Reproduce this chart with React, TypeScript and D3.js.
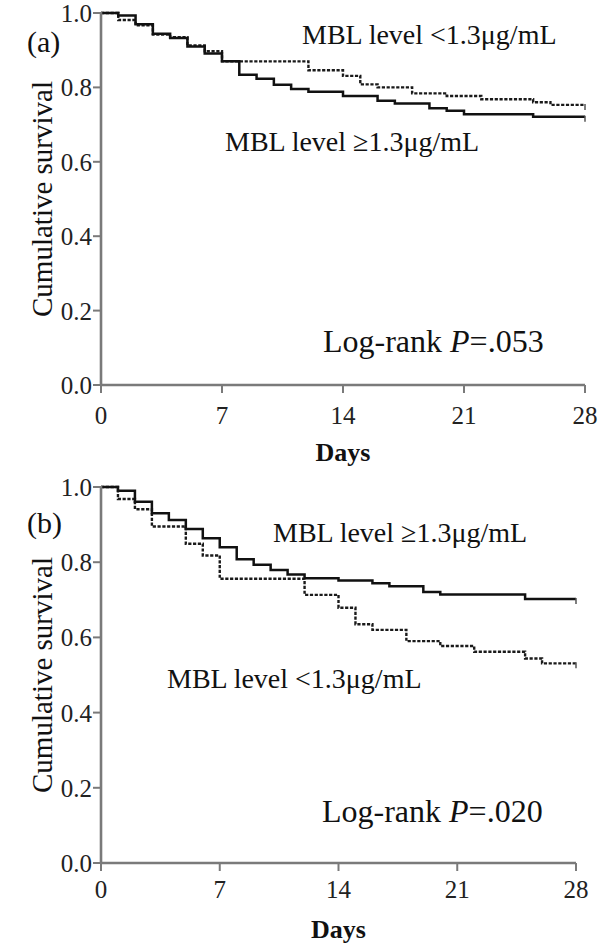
import React from "react";
import * as d3 from "d3";

// ---- Data ----
const xTicks = [0, 7, 14, 21, 28];
const yTicks = [0, 0.2, 0.4, 0.6, 0.8, 1.0];
const endDay = 28;

// Panel (a)
const aHighDays = [0, 1, 2, 3, 4, 5, 6, 7, 8, 9, 10, 11, 12, 14, 16, 17, 19, 20, 21, 25];
const aHighSurv = [1.0, 0.993, 0.970, 0.944, 0.933, 0.910, 0.891, 0.870, 0.834, 0.823, 0.807, 0.796, 0.788, 0.777, 0.764, 0.757, 0.744, 0.737, 0.728, 0.721];
const aLowDays = [0, 1, 2, 3, 4, 5, 6, 7, 12, 14, 15, 16, 18, 20, 22, 25, 26];
const aLowSurv = [1.0, 0.981, 0.967, 0.942, 0.935, 0.913, 0.897, 0.870, 0.846, 0.831, 0.808, 0.800, 0.784, 0.777, 0.768, 0.760, 0.753];

// Panel (b)
const bHighDays = [0, 1, 2, 3, 4, 5, 6, 7, 8, 9, 10, 11, 12, 14, 16, 17, 19, 20, 25];
const bHighSurv = [1.0, 0.990, 0.961, 0.930, 0.912, 0.888, 0.864, 0.840, 0.808, 0.793, 0.779, 0.767, 0.757, 0.751, 0.744, 0.736, 0.721, 0.714, 0.702];
const bLowDays = [0, 1, 2, 3, 5, 6, 7, 12, 14, 15, 16, 18, 20, 22, 25, 26];
const bLowSurv = [1.0, 0.968, 0.941, 0.895, 0.849, 0.818, 0.756, 0.713, 0.679, 0.635, 0.620, 0.590, 0.577, 0.562, 0.544, 0.531];

const labelHigh = "MBL level \u22651.3\u03bcg/mL";
const labelLow = "MBL level <1.3\u03bcg/mL";

const FONT = "'Liberation Serif', 'Times New Roman', serif";
const AXIS = "#7a7a7a";

type PanelProps = {
  letter: string;
  pval: string;
  x0: number; x1: number; y0: number; y1: number;
  highDays: number[]; highSurv: number[];
  lowDays: number[]; lowSurv: number[];
  highLabel: [number, number];
  lowLabel: [number, number];
  pLabel: [number, number];
  letterPos: [number, number];
  xLabelOffset: number;
  daysY: number;
};

function Panel(p: PanelProps) {
  const x = d3.scaleLinear().domain([0, 28]).range([p.x0, p.x1]);
  const y = d3.scaleLinear().domain([0, 1]).range([p.y0, p.y1]);
  const line = d3
    .line<[number, number]>()
    .x((d) => x(d[0]))
    .y((d) => y(d[1]))
    .curve(d3.curveStepAfter);
  const pts = (days: number[], surv: number[]): [number, number][] => {
    const arr: [number, number][] = days.map((d, i) => [d, surv[i]]);
    arr.push([endDay, surv[surv.length - 1]]);
    return arr;
  };
  const hi = pts(p.highDays, p.highSurv);
  const lo = pts(p.lowDays, p.lowSurv);
  const hiEnd = p.highSurv[p.highSurv.length - 1];
  const loEnd = p.lowSurv[p.lowSurv.length - 1];
  const midY = (y(0) + y(1)) / 2;
  return (
    <g>
      {/* curves */}
      <path d={line(lo) || ""} fill="none" stroke="#1a1a1a" strokeWidth={2.4} strokeDasharray="3.2,1.6" />
      <path d={line(hi) || ""} fill="none" stroke="#111" strokeWidth={2.5} />
      <line x1={x(endDay)} x2={x(endDay)} y1={y(hiEnd) - 1} y2={y(hiEnd) + 5} stroke="#555" strokeWidth={1.5} />
      <line x1={x(endDay)} x2={x(endDay)} y1={y(loEnd) - 1} y2={y(loEnd) + 5} stroke="#555" strokeWidth={1.5} />
      {/* axes */}
      <line x1={x(0)} x2={x(0)} y1={y(0)} y2={y(1) - 1} stroke={AXIS} strokeWidth={2.6} />
      <line x1={x(0)} x2={x(28)} y1={y(0)} y2={y(0)} stroke={AXIS} strokeWidth={2.6} />
      {yTicks.map((t) => (
        <g key={"y" + t}>
          <line x1={x(0) - 8} x2={x(0)} y1={y(t)} y2={y(t)} stroke={AXIS} strokeWidth={2} />
          <text x={x(0) - 9} y={y(t) + 9} textAnchor="end" fontFamily={FONT} fontSize={25} fill="#222">
            {t.toFixed(1)}
          </text>
        </g>
      ))}
      {xTicks.map((t) => (
        <g key={"x" + t}>
          <line x1={x(t)} x2={x(t)} y1={y(0)} y2={y(0) + 8} stroke={AXIS} strokeWidth={2} />
          <text x={x(t)} y={y(0) + p.xLabelOffset} textAnchor="middle" fontFamily={FONT} fontSize={25} fill="#222">
            {t}
          </text>
        </g>
      ))}
      {/* axis titles */}
      <text x={x(14)} y={p.daysY} textAnchor="middle" fontFamily={FONT} fontSize={26} fontWeight="bold" fill="#111">
        Days
      </text>
      <text
        transform={`translate(52, ${midY}) rotate(-90)`}
        textAnchor="middle"
        fontFamily={FONT}
        fontSize={29}
        fill="#111"
      >
        Cumulative survival
      </text>
      {/* annotations */}
      <text x={p.letterPos[0]} y={p.letterPos[1]} fontFamily={FONT} fontSize={30} fill="#111">
        {p.letter}
      </text>
      <text x={p.highLabel[0]} y={p.highLabel[1]} fontFamily={FONT} fontSize={28} fill="#111">
        {labelHigh}
      </text>
      <text x={p.lowLabel[0]} y={p.lowLabel[1]} fontFamily={FONT} fontSize={28} fill="#111">
        {labelLow}
      </text>
      <text x={p.pLabel[0]} y={p.pLabel[1]} fontFamily={FONT} fontSize={32} fill="#111">
        Log-rank <tspan fontStyle="italic">P</tspan>={p.pval}
      </text>
    </g>
  );
}

export default function App() {
  return (
    <svg
      width={600}
      height={952}
      viewBox="0 0 600 952"
      style={{ position: "absolute", left: 0, top: 0, background: "#fff" }}
    >
      <rect x={0} y={0} width={600} height={952} fill="#fff" />
      <Panel
        letter="(a)"
        pval=".053"
        x0={101} x1={585} y0={385} y1={13}
        highDays={aHighDays} highSurv={aHighSurv}
        lowDays={aLowDays} lowSurv={aLowSurv}
        highLabel={[225, 151]}
        lowLabel={[302, 44]}
        pLabel={[323, 352]}
        letterPos={[27, 52]}
        xLabelOffset={38.5}
        daysY={461}
      />
      <Panel
        letter="(b)"
        pval=".020"
        x0={101} x1={576} y0={863} y1={487}
        highDays={bHighDays} highSurv={bHighSurv}
        lowDays={bLowDays} lowSurv={bLowSurv}
        highLabel={[273, 542]}
        lowLabel={[167, 688]}
        pLabel={[322, 822]}
        letterPos={[27, 533]}
        xLabelOffset={35}
        daysY={938}
      />
    </svg>
  );
}
